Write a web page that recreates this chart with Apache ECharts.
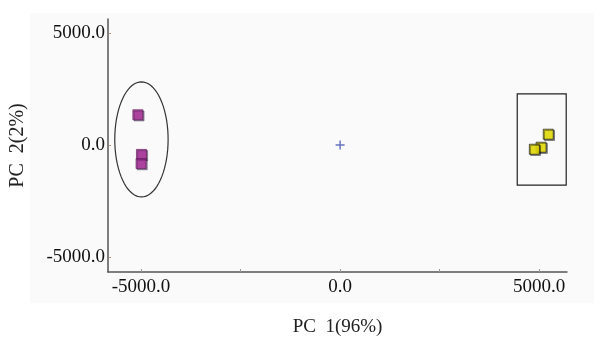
<!DOCTYPE html>
<html>
<head>
<meta charset="utf-8">
<title>PCA</title>
<script src="https://cdn.jsdelivr.net/npm/echarts@6/dist/echarts.min.js"></script>
<style>
  html, body { margin: 0; padding: 0; background: #fff; }
  #main { width: 594px; height: 339px; }
</style>
</head>
<body>
<div id="main"></div>
<script>
// 数据：两组样本的主成分得分
var groupA = [[-5080, 1350], [-4990, -420], [-5000, -830]]
var groupB = [[5230, 480], [5050, -100], [4880, -190]]
var origin = [[0, 0]]
// 椭圆（中心 x, 中心 y, 半径 x, 半径 y）和矩形（x1, y1, x2, y2）
var ellipseA = [[-4990, 250, 670, 2570]]
var boxB = [[4450, 2280, 5680, -1790]]
var labelTicks = [-5000, 0, 5000]
var xMinorTicks = [-5000, -2500, 0, 2500, 5000]

var font = '"Liberation Serif", "Times New Roman", serif'
var chart = echarts.init(document.getElementById('main'))

var ellipseItem = function(params, api) {
    var cx = api.value(0), cy = api.value(1), rx = api.value(2), ry = api.value(3)
    var pts = []
    for (var i = 0; i <= 72; i++) {
        var a = i / 72 * Math.PI * 2
        pts.push(api.coord([cx + rx * Math.cos(a), cy + ry * Math.sin(a)]))
    }
    return {
        type: 'polyline',
        shape: { points: pts },
        style: { stroke: '#333', lineWidth: 1.2, fill: null }
    }
}

var boxItem = function(params, api) {
    var p1 = api.coord([api.value(0), api.value(1)])
    var p2 = api.coord([api.value(2), api.value(3)])
    return {
        type: 'rect',
        shape: { x: p1[0], y: p1[1], width: p2[0] - p1[0], height: p2[1] - p1[1] },
        style: { stroke: '#222', lineWidth: 1.2, fill: null }
    }
}

var option = {
    backgroundColor: '#fff',
    animation: false,
    graphic: [{
        type: 'rect', z: -10,
        shape: { x: 30, y: 13, width: 564, height: 290 },
        style: { fill: '#fafafa' }
    }],
    grid: { left: 108, right: 27, top: 19, bottom: 67, outerBoundsMode: 'none', containLabel: false },
    xAxis: {
        type: 'value', min: -5830, max: 5700,
        name: 'PC  1(96%)', nameLocation: 'middle', nameGap: 46,
        nameTextStyle: { fontFamily: font, fontSize: 19, color: '#222' },
        splitLine: { show: false },
        axisLine: { onZero: false, lineStyle: { color: '#555', width: 1.5 } },
        axisTick: { inside: true, length: 3, customValues: xMinorTicks, lineStyle: { color: '#999' } },
        axisLabel: {
            customValues: labelTicks, margin: 6,
            fontFamily: font, fontSize: 19, color: '#111',
            formatter: function(v) { return v.toFixed(1) }
        }
    },
    yAxis: {
        type: 'value', min: -5670, max: 5625,
        name: 'PC  2(2%)', nameLocation: 'middle', nameGap: 80,
        nameTextStyle: { fontFamily: font, fontSize: 20, color: '#222' },
        splitLine: { show: false },
        axisLine: { onZero: false, lineStyle: { color: '#555', width: 1.5 } },
        axisTick: { inside: true, length: 3, customValues: labelTicks, lineStyle: { color: '#b09080' } },
        axisLabel: {
            customValues: labelTicks, margin: 3,
            fontFamily: font, fontSize: 19, color: '#111',
            formatter: function(v) { return v.toFixed(1) }
        }
    },
    series: [
        {
            type: 'custom', data: ellipseA, renderItem: ellipseItem, silent: true
        },
        {
            type: 'custom', data: boxB, renderItem: boxItem, silent: true
        },
        {
            type: 'scatter', data: groupA, symbol: 'rect', symbolSize: 10,
            itemStyle: {
                color: '#b0309c', borderColor: '#5a1850', borderWidth: 0.8,
                shadowColor: 'rgba(40,20,60,0.6)', shadowOffsetX: 1.2, shadowOffsetY: 1.2
            }
        },
        {
            type: 'scatter', data: groupB, symbol: 'rect', symbolSize: 10,
            itemStyle: {
                color: '#f6ee00', borderColor: '#222', borderWidth: 1,
                shadowColor: 'rgba(0,0,0,0.5)', shadowOffsetX: 1.2, shadowOffsetY: 1.2
            }
        },
        {
            type: 'scatter', data: origin, symbolSize: 9,
            symbol: 'path://M4.2,0 L5.8,0 L5.8,4.2 L10,4.2 L10,5.8 L5.8,5.8 L5.8,10 L4.2,10 L4.2,5.8 L0,5.8 L0,4.2 L4.2,4.2 Z',
            itemStyle: { color: '#4050b0' }
        }
    ]
}

chart.setOption(option)
</script>
</body>
</html>
